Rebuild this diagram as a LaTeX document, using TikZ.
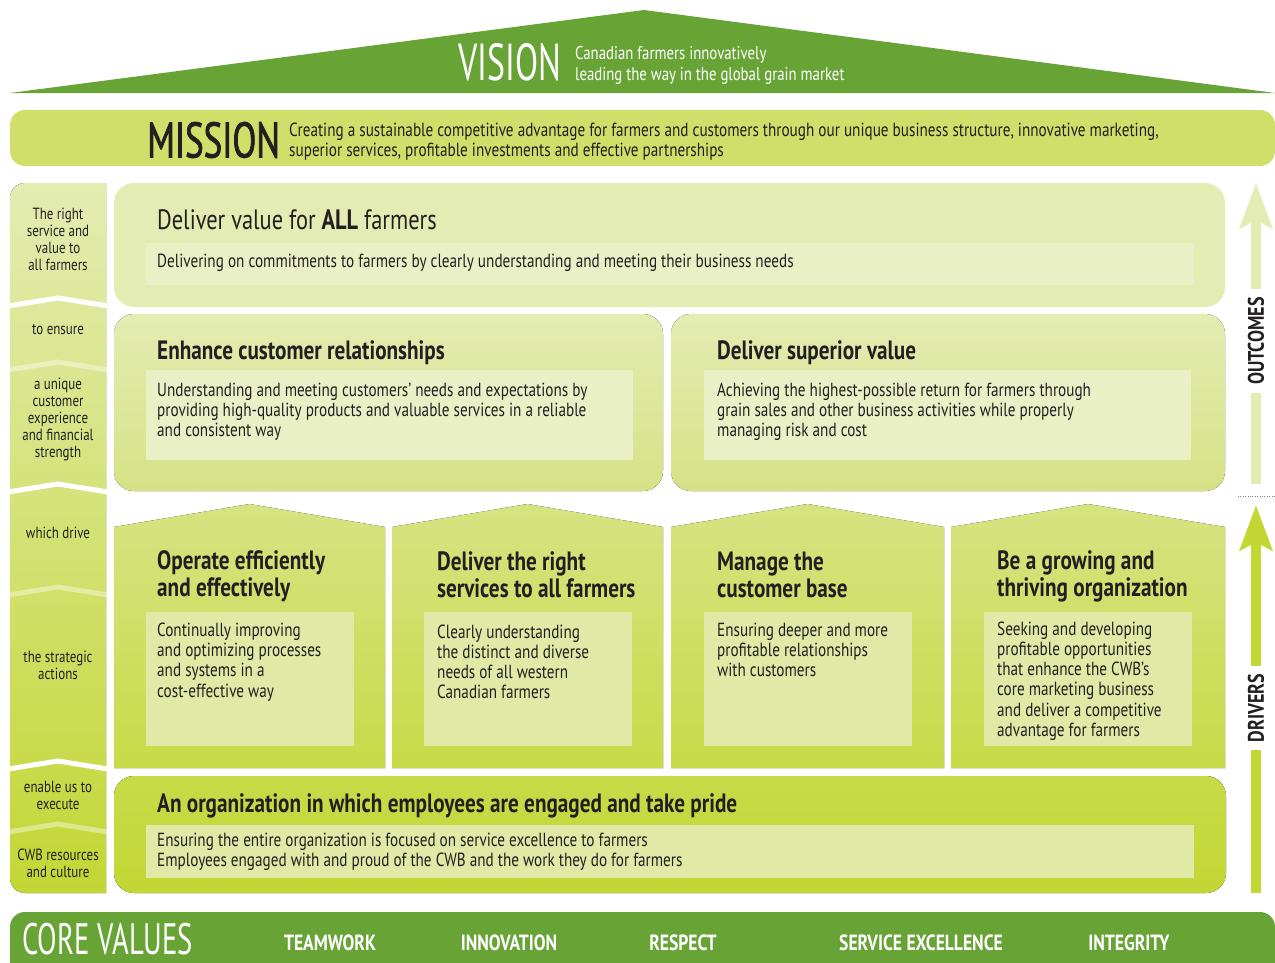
\documentclass[tikz,border=0pt]{standalone}
\usepackage{fontspec}
\setmainfont{PT Sans}[FakeStretch=0.8]
\newfontfamily\bigfont{PT Sans}[FakeStretch=0.65]
\newfontfamily\heavybigfont{PT Sans}[FakeStretch=0.7,FakeBold=1.4]
\usetikzlibrary{arrows.meta,positioning}
\definecolor{leafgreen}{RGB}{104,163,54}
\definecolor{missiongreen}{RGB}{207,223,106}
\definecolor{palegreen}{RGB}{227,236,178}
\definecolor{palemid}{RGB}{214,226,134}
\definecolor{pillartop}{RGB}{214,227,130}
\definecolor{pillarbot}{RGB}{199,219,72}
\definecolor{limegreen}{RGB}{194,215,52}
\definecolor{panelpale}{RGB}{233,240,198}
\definecolor{panelmid}{RGB}{224,233,166}
\definecolor{ink}{RGB}{35,31,32}

\begin{document}
\begin{tikzpicture}[x=1pt,y=-1pt,
  title/.style={anchor=west,inner sep=0,text=ink,align=left,font=\fontsize{26.5}{27}\selectfont\bfseries},
  body/.style={anchor=west,inner sep=0,text=ink,align=left,font=\fontsize{19}{20.2}\selectfont},
  side/.style={inner sep=0,text=ink,align=center,font=\fontsize{16.2}{17}\selectfont},
  value/.style={inner sep=0,text=white,font=\fontsize{22}{24}\selectfont\bfseries},
  axis/.style={rotate=90,inner sep=8,text=ink,font=\fontsize{22.5}{22}\selectfont\bfseries},
  shaft/.style={line width=10},
  pillar/.style={top color=pillartop,bottom color=pillarbot}]
\useasboundingbox (0,0) rectangle (1275,962);

% Vision roof
\fill[leafgreen] (10,93) -- (644,10) -- (1275,93) -- cycle;
\node[anchor=west,inner sep=0,text=white,font=\bigfont\fontsize{52}{52}\selectfont] (vision) at (458,62) {VISION};
\node[anchor=west,inner sep=0,text=white,align=left,font=\fontsize{18.5}{21}\selectfont] (visiontext) at (575,65)
  {Canadian farmers innovatively\\leading the way in the global grain market};

% Mission band
\fill[missiongreen,rounded corners=15] (10,110) rectangle (1275,166);
\node[anchor=west,inner sep=0,text=ink,font=\heavybigfont\fontsize{50}{50}\selectfont] (mission) at (147,140) {MISSION};
\node[body] (missiontext) at (289,142)
  {Creating a sustainable competitive advantage for farmers and customers through our unique business structure, innovative marketing,\\
   superior services, profitable investments and effective partnerships};

% Left column with chevrons
\begin{scope}
  \clip (10,183) rectangle (106,893);
  \fill[top color=palegreen,bottom color=limegreen,rounded corners=15] (10,183) rectangle (140,893);
\end{scope}
\foreach \y/\c/\o in {298/white/1, 362/white/0.4, 484/white/1, 587/white/0.4, 761/white/1, 824/white/0.4}
  \draw[\c,opacity=\o,line width=5] (8,\y+8) -- (58,\y) -- (108,\y+8);

\node[side] (rightservice) at (58,239.5) {The right\\service and\\value to\\all farmers};
\node[side] (toensure) at (58,330) {to ensure};
\node[side] (unique) at (58,419) {a unique\\customer\\experience\\and financial\\strength};
\node[side] (whichdrive) at (58,533) {which drive};
\node[side] (strategic) at (58,665.5) {the strategic\\actions};
\node[side] (enable) at (58,795.5) {enable us to\\execute};
\node[side] (resources) at (58,863.5) {CWB resources\\and culture};

% Outcomes
\fill[palegreen,rounded corners=20] (114,183) rectangle (1225,307);
\fill[panelpale] (146,243) rectangle (1194,285);
\node[title,font=\fontsize{28}{28}\selectfont] (allfarmers) at (157,220) {Deliver value for \textbf{ALL} farmers};
\node[body] (allfarmerstext) at (157,263)
  {Delivering on commitments to farmers by clearly understanding and meeting their business needs};

\fill[top color=palegreen,bottom color=palemid,rounded corners=20] (114,314) rectangle (663,491);
\fill[top color=palegreen,bottom color=palemid,rounded corners=20] (671,314) rectangle (1225,491);
\fill[panelpale] (146,370) rectangle (633,460);
\fill[panelpale] (704,370) rectangle (1191,460);
\node[title] (customer) at (157,352.5) {Enhance customer relationships};
\node[body] (customertext) at (157,412)
  {Understanding and meeting customers’ needs and expectations by\\providing high-quality products and valuable services in a reliable\\and consistent way};
\node[title] (superior) at (717,352.5) {Deliver superior value};
\node[body] (superiortext) at (717,412)
  {Achieving the highest-possible return for farmers through\\grain sales and other business activities while properly\\managing risk and cost};

% Strategic actions
\foreach \l/\r in {114/385, 392/663, 671/944, 951/1225}
  \fill[pillar] (\l,768) -- (\l,527) -- ({(\l+\r)/2},504) -- (\r,527) -- (\r,768) -- cycle;
\foreach \l in {146, 424, 704, 984}
  \fill[panelmid] (\l,612) rectangle (\l+208,746);

\node[title] (operate) at (157,576.5) {Operate efficiently\\and effectively};
\node[body] (operatetext) at (157,662) {Continually improving\\and optimizing processes\\and systems in a\\cost-effective way};
\node[title] (services) at (437,574.5) {Deliver the right\\services to all farmers};
\node[body] (servicestext) at (437,662) {Clearly understanding\\the distinct and diverse\\needs of all western\\Canadian farmers};
\node[title] (base) at (717,574.5) {Manage the\\customer base};
\node[body] (basetext) at (717,650) {Ensuring deeper and more\\profitable relationships\\with customers};
\node[title] (growing) at (997,576.5) {Be a growing and\\thriving organization};
\node[body] (growingtext) at (997,681)
  {Seeking and developing\\profitable opportunities\\that enhance the CWB’s\\core marketing business\\and deliver a competitive\\advantage for farmers};

% Organization
\fill[top color=pillarbot,bottom color=limegreen,rounded corners=20] (114,776) rectangle (1226,893);
\fill[panelmid] (146,825) rectangle (1194,878);
\node[title] (organization) at (157,805.5) {An organization in which employees are engaged and take pride};
\node[body] (organizationtext) at (157,852)
  {Ensuring the entire organization is focused on service excellence to farmers\\Employees engaged with and proud of the CWB and the work they do for farmers};

% Outcomes / drivers arrows
\draw[gray,dotted] (1238,496) -- (1275,496);
\node[axis] (outcomes) at (1256,341) {OUTCOMES};
\coordinate (outbase) at (1256,484);
\coordinate (outtip) at (1256,183);
\draw[shaft,palegreen] (outbase) -- (outcomes.west);
\draw[shaft,palegreen,-{Stealth[length=45,width=32,inset=8]}] (outcomes.east) -- (outtip);

\node[axis] (drivers) at (1256,708) {DRIVERS};
\coordinate (drivebase) at (1256,893);
\coordinate (drivetip) at (1256,505);
\draw[shaft,limegreen] (drivebase) -- (drivers.west);
\draw[shaft,limegreen,-{Stealth[length=45,width=32,inset=8]}] (drivers.east) -- (drivetip);

% Core values
\begin{scope}
  \clip (0,900) rectangle (1275,962);
  \fill[leafgreen,rounded corners=15] (10,912) rectangle (1275,990);
\end{scope}
\node[anchor=west,inner sep=0,text=white,font=\bigfont\fontsize{44}{44}\selectfont] (corevalues) at (22,939) {CORE VALUES};
\node[value] (teamwork) at (330,943) {TEAMWORK};
\node[value] (innovation) at (509,943) {INNOVATION};
\node[value] (respect) at (683,943) {RESPECT};
\node[value] (excellence) at (921,943) {SERVICE EXCELLENCE};
\node[value] (integrity) at (1129,943) {INTEGRITY};
\end{tikzpicture}
\end{document}
